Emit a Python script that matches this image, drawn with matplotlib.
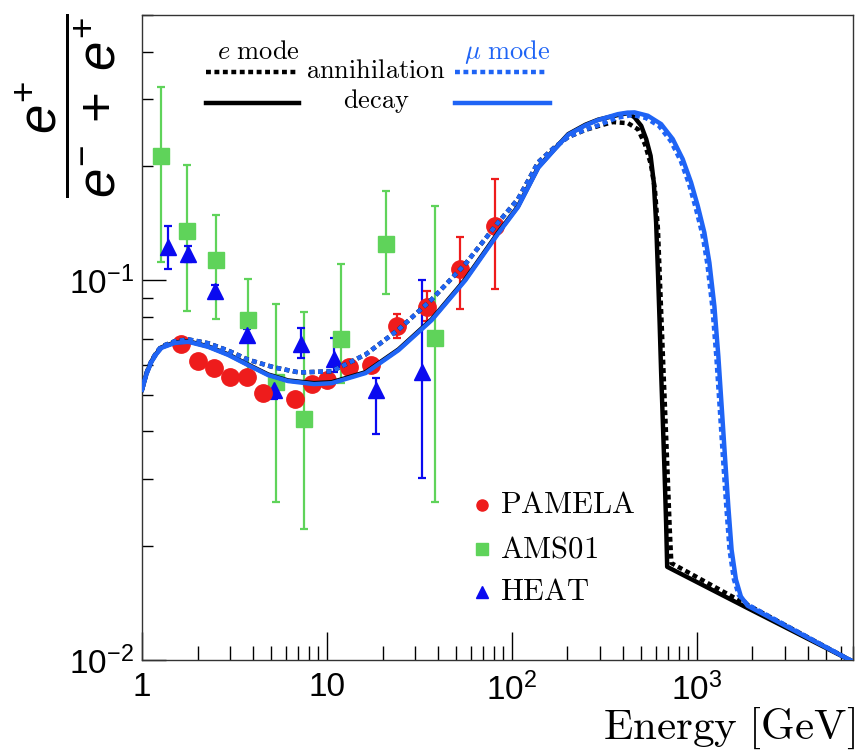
import numpy as np
import matplotlib.pyplot as plt
from matplotlib.lines import Line2D
from matplotlib.ticker import LogLocator, NullFormatter

plt.rcParams['font.family'] = 'Liberation Sans'
plt.rcParams['mathtext.fontset'] = 'custom'
plt.rcParams['mathtext.rm'] = 'Liberation Sans'
plt.rcParams['mathtext.it'] = 'Liberation Sans:italic'

# --- theory curves ---
e_decay_E = [1.0, 1.057, 1.125, 1.197, 1.274, 1.5, 1.78, 2.28, 2.93, 3.75, 4.81, 6.16, 8.5, 10.6,
             16.2, 24.4, 36.8, 56, 84.5, 108, 139, 170, 202, 250, 293, 375, 425, 461, 501, 533, 563,
             586, 603, 617, 630, 642, 656, 670, 683, 692, 1884, 7000]
e_decay_frac = [0.0515, 0.0568, 0.0612, 0.0642, 0.0666, 0.0686, 0.0691, 0.0670, 0.0638, 0.0600,
                0.0565, 0.0545, 0.0536, 0.0539, 0.0573, 0.0658, 0.0789, 0.1006, 0.1338, 0.1567,
                0.1987, 0.2216, 0.2428, 0.2570, 0.2650, 0.2726, 0.2758, 0.2688, 0.2553, 0.2356,
                0.2128, 0.1811, 0.1420, 0.1048, 0.0773, 0.0571, 0.0421, 0.0311, 0.0229, 0.0176,
                0.0137, 0.0099]

e_annih_E = [1.0, 1.057, 1.125, 1.197, 1.274, 1.5, 1.78, 2.28, 2.93, 3.75, 5.17, 7.07, 10.6, 16.2,
             24.4, 36.8, 56.1, 84.5, 108, 139, 170, 202, 250, 293, 352, 425, 481, 525, 565, 594,
             617, 632, 648, 664, 681, 698, 715, 729, 1815, 7000]
e_annih_frac = [0.0515, 0.0570, 0.0614, 0.0646, 0.0670, 0.0691, 0.0699, 0.0683, 0.0653, 0.0618,
                0.0590, 0.0572, 0.0576, 0.0638, 0.0742, 0.0890, 0.1105, 0.1422, 0.1638, 0.2048,
                0.2240, 0.2386, 0.2490, 0.2549, 0.2612, 0.2594, 0.2500, 0.2281, 0.2019, 0.1740,
                0.1364, 0.1006, 0.0742, 0.0548, 0.0404, 0.0298, 0.0220, 0.0180, 0.0141, 0.0099]

mu_decay_E = [1.0, 1.057, 1.125, 1.197, 1.274, 1.5, 1.78, 2.28, 2.93, 3.75, 4.81, 6.16, 8.5, 10.6,
              16.2, 24.4, 36.8, 56, 84.5, 108, 139, 170, 202, 250, 293, 374, 420, 461, 544, 642,
              742, 840, 932, 1013, 1100, 1171, 1246, 1309, 1364, 1421, 1482, 1544, 1629, 1733,
              1884, 7000]
mu_decay_frac = [0.0515, 0.0566, 0.0610, 0.0640, 0.0664, 0.0684, 0.0689, 0.0668, 0.0636, 0.0598,
                 0.0563, 0.0543, 0.0533, 0.0536, 0.0570, 0.0655, 0.0785, 0.1000, 0.1330, 0.1560,
                 0.1980, 0.2210, 0.2420, 0.2560, 0.2645, 0.2740, 0.2765, 0.2770, 0.2714, 0.2580,
                 0.2356, 0.2086, 0.1811, 0.1571, 0.1336, 0.1113, 0.0855, 0.0631, 0.0466, 0.0344,
                 0.0254, 0.0195, 0.0163, 0.0147, 0.0139, 0.0099]

mu_annih_E = [1.0, 1.057, 1.125, 1.197, 1.274, 1.5, 1.78, 2.28, 2.93, 3.75, 5.17, 7.07, 10.6, 16.2,
              24.4, 36.8, 56.1, 84.5, 108, 139, 170, 202, 250, 293, 370, 450, 531, 626, 724, 820,
              909, 988, 1073, 1142, 1215, 1277, 1331, 1386, 1446, 1506, 1589, 1690, 1884, 7000]
mu_annih_frac = [0.0515, 0.0570, 0.0614, 0.0646, 0.0670, 0.0691, 0.0699, 0.0683, 0.0653, 0.0618,
                 0.0590, 0.0572, 0.0576, 0.0638, 0.0742, 0.0890, 0.1105, 0.1422, 0.1638, 0.2048,
                 0.2240, 0.2386, 0.2495, 0.2560, 0.2680, 0.2726, 0.2676, 0.2549, 0.2327, 0.2061,
                 0.1792, 0.1549, 0.1322, 0.1102, 0.0849, 0.0626, 0.0462, 0.0341, 0.0252, 0.0194,
                 0.0163, 0.0148, 0.0140, 0.0099]

# --- measurements: value, lower and upper end of the error bar ---
pamela_E = [1.63, 2.02, 2.46, 3.00, 3.70, 4.52, 6.72, 8.30, 10.0, 13.1, 17.3, 23.8, 34.6, 52.7, 81.5]
pamela_frac = [0.0678, 0.0612, 0.0589, 0.0555, 0.0558, 0.0506, 0.0488, 0.0532, 0.0548, 0.0593,
               0.0600, 0.0756, 0.0849, 0.1069, 0.1388]
pamela_lo = [0.0668, 0.0603, 0.0580, 0.0547, 0.0549, 0.0497, 0.0478, 0.0520, 0.0535, 0.0578,
             0.0580, 0.0707, 0.0780, 0.0839, 0.0947]
pamela_hi = [0.0688, 0.0621, 0.0598, 0.0563, 0.0567, 0.0515, 0.0498, 0.0544, 0.0561, 0.0608,
             0.0620, 0.0813, 0.0935, 0.1298, 0.1848]

ams_E = [1.26, 1.76, 2.52, 3.75, 5.31, 7.52, 11.9, 20.8, 38.2]
ams_frac = [0.2125, 0.1347, 0.1129, 0.0784, 0.0541, 0.0432, 0.0699, 0.1245, 0.0707]
ams_lo = [0.1115, 0.0828, 0.0789, 0.0575, 0.0261, 0.0222, 0.0538, 0.0918, 0.0261]
ams_hi = [0.3228, 0.2011, 0.1484, 0.1006, 0.0865, 0.0823, 0.1102, 0.1717, 0.1567]

heat_E = [1.39, 1.78, 2.49, 3.70, 5.18, 7.24, 10.9, 18.4, 32.5]
heat_frac = [0.1222, 0.1171, 0.0935, 0.0716, 0.0515, 0.0678, 0.0619, 0.0515, 0.0572]
heat_lo = [0.1069, 0.1120, 0.0900, 0.0690, 0.0486, 0.0623, 0.0575, 0.0393, 0.0302]
heat_hi = [0.1388, 0.1230, 0.0970, 0.0745, 0.0538, 0.0747, 0.0707, 0.0553, 0.1000]

red = '#ee1c1c'
green = '#5fd35a'
dblue = '#0a0af0'
lblue = '#1f64f5'

W, H = 865, 756
fig = plt.figure(figsize=(W / 100, H / 100), dpi=100)
ax = fig.add_axes([142 / W, 1 - 660 / H, (853 - 142) / W, (660 - 15) / H])


def bars(v, lo, hi):
    v = np.array(v)
    return [v - np.array(lo), np.array(hi) - v]


ax.errorbar(ams_E, ams_frac, yerr=bars(ams_frac, ams_lo, ams_hi), fmt='s', color=green,
            ms=11, elinewidth=1.6, capsize=3, capthick=1.6, zorder=2)
ax.errorbar(heat_E, heat_frac, yerr=bars(heat_frac, heat_lo, heat_hi), fmt='^', color=dblue,
            ms=12, elinewidth=1.6, capsize=3, capthick=1.6, zorder=2)
ax.errorbar(pamela_E, pamela_frac, yerr=bars(pamela_frac, pamela_lo, pamela_hi), fmt='o',
            color=red, ms=12.5, elinewidth=1.6, capsize=3, capthick=1.6, zorder=2)

dots = (0, (1.1, 0.8))
ax.plot(e_decay_E, e_decay_frac, color='black', lw=3.2, zorder=3)
ax.plot(e_annih_E, e_annih_frac, color='black', lw=3.2, ls=dots, zorder=4)
ax.plot(mu_decay_E, mu_decay_frac, color=lblue, lw=3.2, zorder=5)
ax.plot(mu_annih_E, mu_annih_frac, color=lblue, lw=3.2, ls=dots, zorder=6)

ax.set_xscale('log')
ax.set_yscale('log')
ax.set_xlim(1, 7000)
ax.set_ylim(0.01, 0.5)

ax.set_xticks([1, 10, 100, 1000])
ax.set_xticklabels(['1', '10', r'$10^{2}$', r'$10^{3}$'])
ax.set_yticks([0.01, 0.1])
ax.set_yticklabels([r'$10^{-2}$', r'$10^{-1}$'])
ax.xaxis.set_minor_locator(LogLocator(base=10, subs=np.arange(2, 10)))
ax.yaxis.set_minor_locator(LogLocator(base=10, subs=np.arange(2, 10)))
ax.xaxis.set_minor_formatter(NullFormatter())
ax.yaxis.set_minor_formatter(NullFormatter())
ax.tick_params(axis='x', which='major', direction='in', length=20, width=1, labelsize=24, pad=9)
ax.tick_params(axis='x', which='minor', direction='in', length=10, width=1)
ax.tick_params(axis='y', which='major', direction='in', length=17, width=1, labelsize=24, pad=6)
ax.tick_params(axis='y', which='minor', direction='in', length=8, width=1)
for s in ax.spines.values():
    s.set_color('#333333')
    s.set_linewidth(1)

fig.text(855 / W, 1 - 728 / H, r'$\mathrm{Energy\ [GeV]}$', math_fontfamily='cm', fontsize=31,
         ha='right', va='center')
fig.text(66 / W, 1 - 14 / H, r'$\dfrac{e^{+}}{e^{-}\;+\;e^{+}}$', fontsize=38, rotation=90,
         ha='center', va='top')


def fx(p):
    return p / W


def fy(p):
    return 1 - p / H


# model legend
fig.add_artist(Line2D([fx(206), fx(298)], [fy(72), fy(72)], color='black', lw=3.2, ls=dots))
fig.add_artist(Line2D([fx(455), fx(547)], [fy(72), fy(72)], color=lblue, lw=3.2, ls=dots))
fig.add_artist(Line2D([fx(206), fx(299)], [fy(103), fy(103)], color='black', lw=3.2))
fig.add_artist(Line2D([fx(455), fx(550)], [fy(103), fy(103)], color=lblue, lw=3.2))
fig.text(fx(258), fy(52), r'$e\ \mathrm{mode}$', math_fontfamily='cm', fontsize=19,
         ha='center', va='center')
fig.text(fx(507), fy(52), r'$\mu\ \mathrm{mode}$', math_fontfamily='cm', fontsize=19,
         ha='center', va='center', color=lblue)
fig.text(fx(376), fy(71), r'$\mathrm{annihilation}$', math_fontfamily='cm', fontsize=19,
         ha='center', va='center')
fig.text(fx(376), fy(101), r'$\mathrm{decay}$', math_fontfamily='cm', fontsize=19,
         ha='center', va='center')

# data legend
for py, mk, col, name in [(505, 'o', red, 'PAMELA'), (549, 's', green, 'AMS01'),
                          (592, '^', dblue, 'HEAT')]:
    fig.add_artist(Line2D([fx(482)], [fy(py)], marker=mk, color=col, ms=8, ls='none'))
    fig.text(fx(500), fy(py), r'$\mathrm{' + name + '}$', math_fontfamily='cm', fontsize=22,
             ha='left', va='center')

fig.savefig('out.png', dpi=100)
